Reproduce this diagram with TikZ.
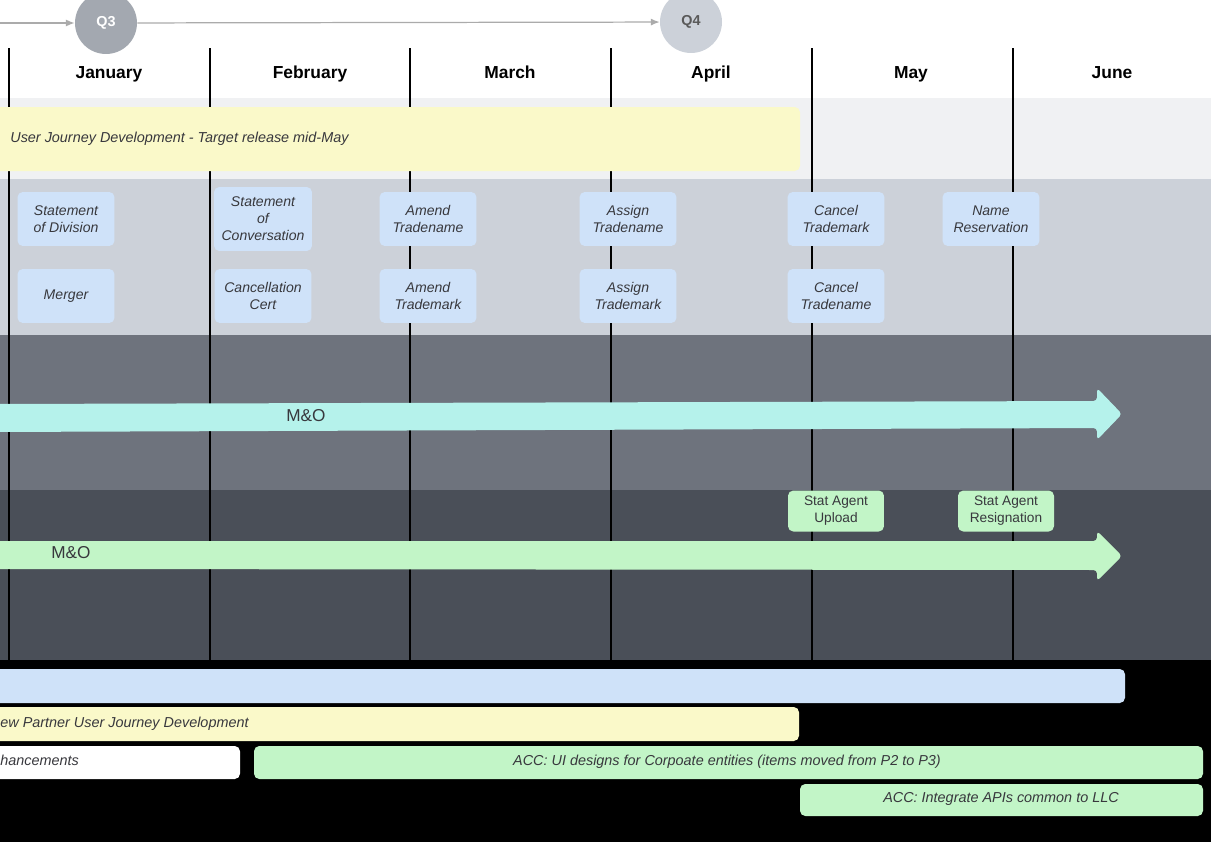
\documentclass[tikz,border=0pt]{standalone}
\usepackage{fontspec}
\setmainfont{Liberation Sans}
\definecolor{lightband}{rgb}{0.94,0.945,0.953}
\definecolor{midband}{rgb}{0.80,0.82,0.85}
\definecolor{greyband}{rgb}{0.43,0.45,0.49}
\definecolor{darkband}{rgb}{0.29,0.31,0.345}
\definecolor{baryellow}{rgb}{0.98,0.976,0.79}
\definecolor{taskblue}{rgb}{0.81,0.886,0.976}
\definecolor{mocyan}{rgb}{0.71,0.95,0.92}
\definecolor{mogreen}{rgb}{0.76,0.96,0.78}
\definecolor{qdark}{rgb}{0.64,0.66,0.69}
\definecolor{qlight}{rgb}{0.80,0.82,0.85}
\definecolor{inktext}{rgb}{0.22,0.22,0.24}
\usetikzlibrary{arrows.meta}

\begin{document}
\begin{tikzpicture}[x=0.02cm, y=-0.02cm, every node/.style={inner sep=0pt},
  month/.style={anchor=base, font=\fontsize{9.9}{12}\selectfont\bfseries},
  quarter/.style={circle, minimum size=1.24cm, font=\fontsize{8.2}{10}\selectfont\bfseries},
  timeline/.style={draw=black!33, line width=0.7pt, -{Latex[length=5pt,width=4pt]}},
  task/.style={fill=taskblue, rounded corners=3pt, minimum width=1.94cm, minimum height=1.08cm,
    align=center, text=inktext, font=\fontsize{8}{9.6}\selectfont\itshape},
  agent/.style={fill=mogreen, rounded corners=3pt, minimum width=1.92cm, minimum height=0.82cm,
    align=center, text=inktext, font=\fontsize{7.8}{9.6}\selectfont},
  bartext/.style={anchor=base, text=inktext, font=\fontsize{8.2}{9.6}\selectfont\itshape},
  mo/.style={text=inktext, font=\fontsize{9.8}{11}\selectfont}]

  \clip (0,0) rectangle (1211,842);

  % Bands
  \fill[white] (0,0) rectangle (1211,98);
  \fill[lightband] (0,98) rectangle (1211,179);
  \fill[midband] (0,179) rectangle (1211,335);
  \fill[greyband] (0,335) rectangle (1211,490);
  \fill[darkband] (0,490) rectangle (1211,660);
  \fill[black] (0,660) rectangle (1211,842);

  % Quarters
  \node[quarter, fill=qdark, text=white] (q3) at (106,23) {Q3};
  \node[quarter, fill=qlight, text=black!65] (q4) at (691,22) {Q4};
  \coordinate (tstart) at (0,23);
  \draw[timeline] (tstart) -- (q3);
  \draw[timeline] (q3) -- (q4);

  % Months
  \draw[line width=1.1pt] (9,48) -- (9,660);
  \draw[line width=1.1pt] (210,48) -- (210,660);
  \draw[line width=1.1pt] (410,48) -- (410,660);
  \draw[line width=1.1pt] (611,48) -- (611,660);
  \draw[line width=1.1pt] (812,48) -- (812,660);
  \draw[line width=1.1pt] (1013,48) -- (1013,660);
  \node[month] (jan) at (109,78) {January};
  \node[month] (feb) at (310,78) {February};
  \node[month] (mar) at (510,78) {March};
  \node[month] (apr) at (711,78) {April};
  \node[month] (may) at (911,78) {May};
  \node[month] (jun) at (1112,78) {June};

  % User journey
  \fill[baryellow, rounded corners=3pt] (-10,107) rectangle (800,171);
  \node[bartext, anchor=base west] (journey) at (10,142) {User Journey Development - Target release mid-May};

  % Tasks
  \node[task] (division) at (66,219) {Statement\\of Division};
  \node[task, minimum height=1.28cm, minimum width=1.96cm] (conversion) at (263,219) {Statement\\of\\Conversation};
  \node[task] (amendname) at (428,219) {Amend\\Tradename};
  \node[task] (assignname) at (628,219) {Assign\\Tradename};
  \node[task] (canceltm) at (836,219) {Cancel\\Trademark};
  \node[task] (reserve) at (991,219) {Name\\Reservation};
  \node[task] (merger) at (66,296) {Merger};
  \node[task] (cancelcert) at (263,296) {Cancellation\\Cert};
  \node[task] (amendtm) at (428,296) {Amend\\Trademark};
  \node[task] (assigntm) at (628,296) {Assign\\Trademark};
  \node[task] (cancelname) at (836,296) {Cancel\\Tradename};

  % M&O arrows
  \fill[mocyan, rounded corners=2pt] (-10,404) -- (1097,401) -- (1097,388) -- (1122,414)
    -- (1097,440) -- (1097,428) -- (-10,432) -- cycle;
  \node[mo] (mocyan) at (306,416) {M\&O};
  \node[agent] (upload) at (836,511) {Stat Agent\\Upload};
  \node[agent] (resign) at (1006,511) {Stat Agent\\Resignation};
  \fill[mogreen, rounded corners=2pt] (-10,541) -- (1097,541) -- (1097,531) -- (1122,556)
    -- (1097,581) -- (1097,570) -- (-10,569) -- cycle;
  \node[mo] (mogreen) at (71,553) {M\&O};

  % Bottom bars
  \fill[taskblue, rounded corners=3pt] (-10,669) rectangle (1125,703);
  \fill[baryellow, rounded corners=3pt] (-10,707) rectangle (799,741);
  \node[bartext, anchor=base west] (partner) at (0,727) {ew Partner User Journey Development};
  \fill[white, rounded corners=3pt] (-10,746) rectangle (240,779);
  \node[bartext, anchor=base west] (enhance) at (0,765) {hancements};
  \fill[mogreen, rounded corners=3pt] (254,746) rectangle (1203,779);
  \node[bartext] (uidesign) at (727,765) {ACC: UI designs for Corpoate entities (items moved from P2 to P3)};
  \fill[mogreen, rounded corners=3pt] (800,784) rectangle (1203,816);
  \node[bartext] (apis) at (1001,802) {ACC: Integrate APIs common to LLC};

\end{tikzpicture}
\end{document}
